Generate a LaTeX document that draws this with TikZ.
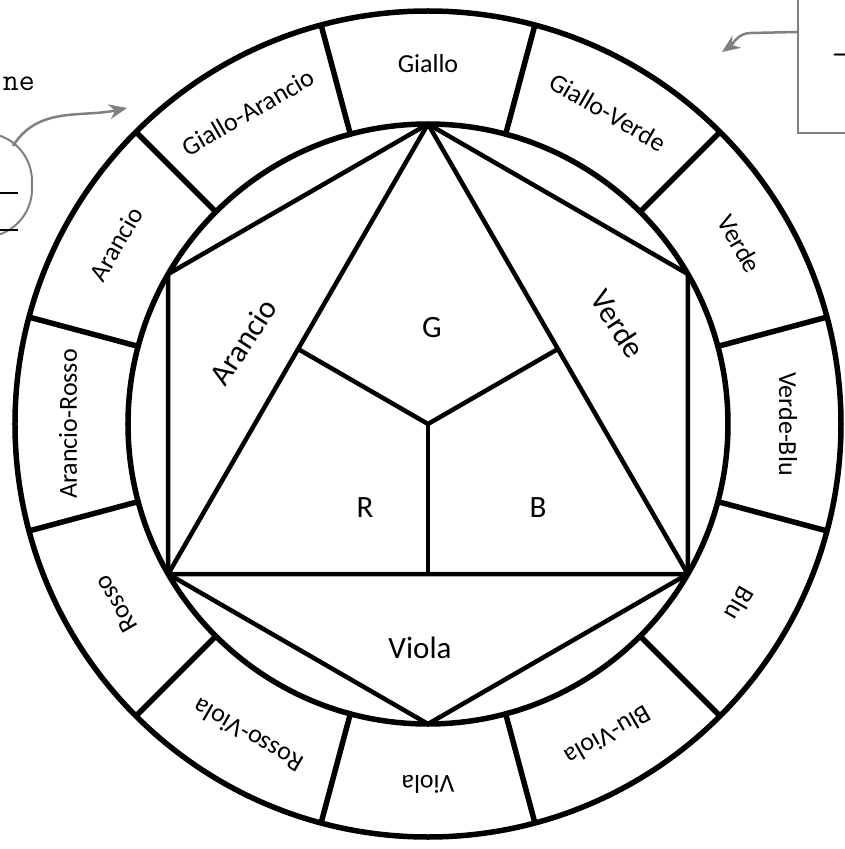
\documentclass[tikz,border=0pt]{standalone}
\usepackage{fontspec}
\setmainfont{Carlito}
\usetikzlibrary{arrows.meta}

\begin{document}
\begin{tikzpicture}[x=1pt, y=1pt,
  ring/.style={line width=5.5pt},
  edge/.style={line width=4.5pt, line join=round},
  seglabel/.style={font=\fontsize{26}{30}\selectfont},
  biglabel/.style={font=\fontsize{31}{36}\selectfont},
  note/.style={draw=gray, line width=2pt},
  monotext/.style={font=\ttfamily\fontsize{31}{34}\selectfont, inner sep=0pt},
  callout/.style={-{Stealth[length=18pt,width=15pt]}, draw=gray, line width=2.5pt}
]
\useasboundingbox (-428,-425) rectangle (417,424);
\clip (-428,-425) rectangle (417,424);

% outer ring and its twelve fields
\draw[ring] (0,0) circle (413);
\draw[ring] (0,0) circle (300);
\foreach \a in {15,45,...,345}
  \draw[ring] (\a:300) -- (\a:413);

\foreach \a/\name in {90/Giallo, 120/Giallo-Arancio, 150/Arancio,
    180/Arancio-Rosso, 210/Rosso, 240/Rosso-Viola, 270/Viola,
    300/Blu-Viola, 330/Blu, 0/Verde-Blu, 30/Verde, 60/Giallo-Verde}
  \node[seglabel, rotate=\a-90] (s\a) at (\a:360) {\name};

% hexagon and triangle
\foreach \a in {30,90,...,330}
  \coordinate (h\a) at (\a:300);
\coordinate (c) at (0,0);
\draw[edge] (h90) -- (h150) -- (h210) -- (h270) -- (h330) -- (h30) -- cycle;
\draw[edge] (h90) -- (h210) -- (h330) -- cycle;
\foreach \a in {30,150,270}
  \draw[edge] (c) -- (\a:150);

\node[biglabel] (g) at (4,96) {G};
\node[biglabel] (r) at (-63,-84) {R};
\node[biglabel] (b) at (110,-84) {B};
\node[biglabel, rotate=57] (arancio) at (-185,82) {Arancio};
\node[biglabel, rotate=-57] (verde) at (190,100) {Verde};
\node[biglabel] (viola) at (-8,-224) {Viola};

% cut-off notes at the edges
\node[monotext, anchor=base east] (ne) at (-393,333) {ne};
\node[note, rounded corners=48pt, minimum width=100pt, minimum height=104pt] (boxL) at (-446,239) {};
\draw[line width=1.5pt] (-428,231) -- (-410,231);
\draw[line width=1.5pt] (-428,194) -- (-410,194);
\coordinate (fromL) at (-415,278);
\coordinate (tipL) at (-301,316);
\draw[callout] (fromL) to[out=58, in=192] (tipL);

\node[note, minimum width=100pt, minimum height=202pt, anchor=west] (boxR) at (369,392) {};
\node[monotext, anchor=west] (dash) at (404,365) {-};
\coordinate (tipR) at (294,372);
\draw[callout] (boxR.west) -- ++(-46,-1) to[out=180, in=35] (tipR);
\end{tikzpicture}
\end{document}
